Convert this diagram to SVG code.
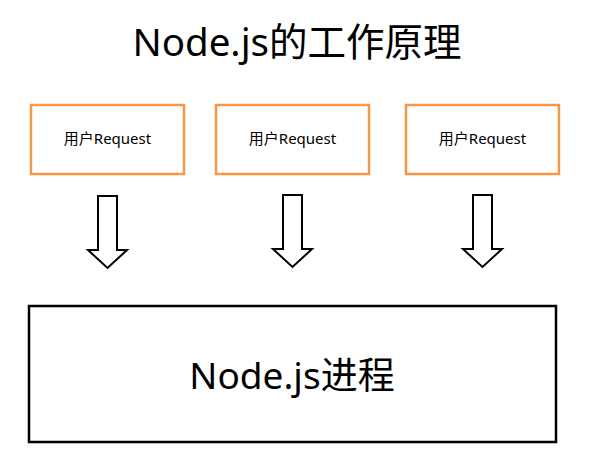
<svg xmlns="http://www.w3.org/2000/svg" width="590" height="461" viewBox="0 0 590 461">
<style>
.t{font-family:"Noto Sans","Noto Sans CJK SC",sans-serif;fill:#000;text-anchor:middle}
.req{fill:#fff;stroke:#F79646;stroke-width:2.5}
.arr{fill:#fff;stroke:#000;stroke-width:2;stroke-linejoin:miter}
</style>
<rect width="590" height="461" fill="#fff"/>
<text id="title" class="t" x="297" y="56" font-size="38.5">Node.js的工作原理</text>
<g id="req1"><rect class="req" x="31" y="105" width="153" height="69"/><text class="t" x="107.5" y="144" font-size="15">用户Request</text></g>
<g id="req2"><rect class="req" x="216" y="105" width="153" height="69"/><text class="t" x="292.5" y="144" font-size="15">用户Request</text></g>
<g id="req3"><rect class="req" x="406" y="105" width="153" height="69"/><text class="t" x="482.5" y="144" font-size="15">用户Request</text></g>
<g id="connectors">
<path class="arr" d="M98,196 H117 V250 H127 L107.5,268 L88,250 H98 Z"/>
<path class="arr" d="M283,195 H302 V249 H312 L292.5,267 L273,249 H283 Z"/>
<path class="arr" d="M473,195 H492 V249 H502 L482.5,267 L463,249 H473 Z"/>
</g>
<g id="process"><rect x="29" y="306" width="527" height="136" fill="#fff" stroke="#000" stroke-width="2.5"/><text class="t" x="292" y="389" font-size="37">Node.js进程</text></g>
</svg>
